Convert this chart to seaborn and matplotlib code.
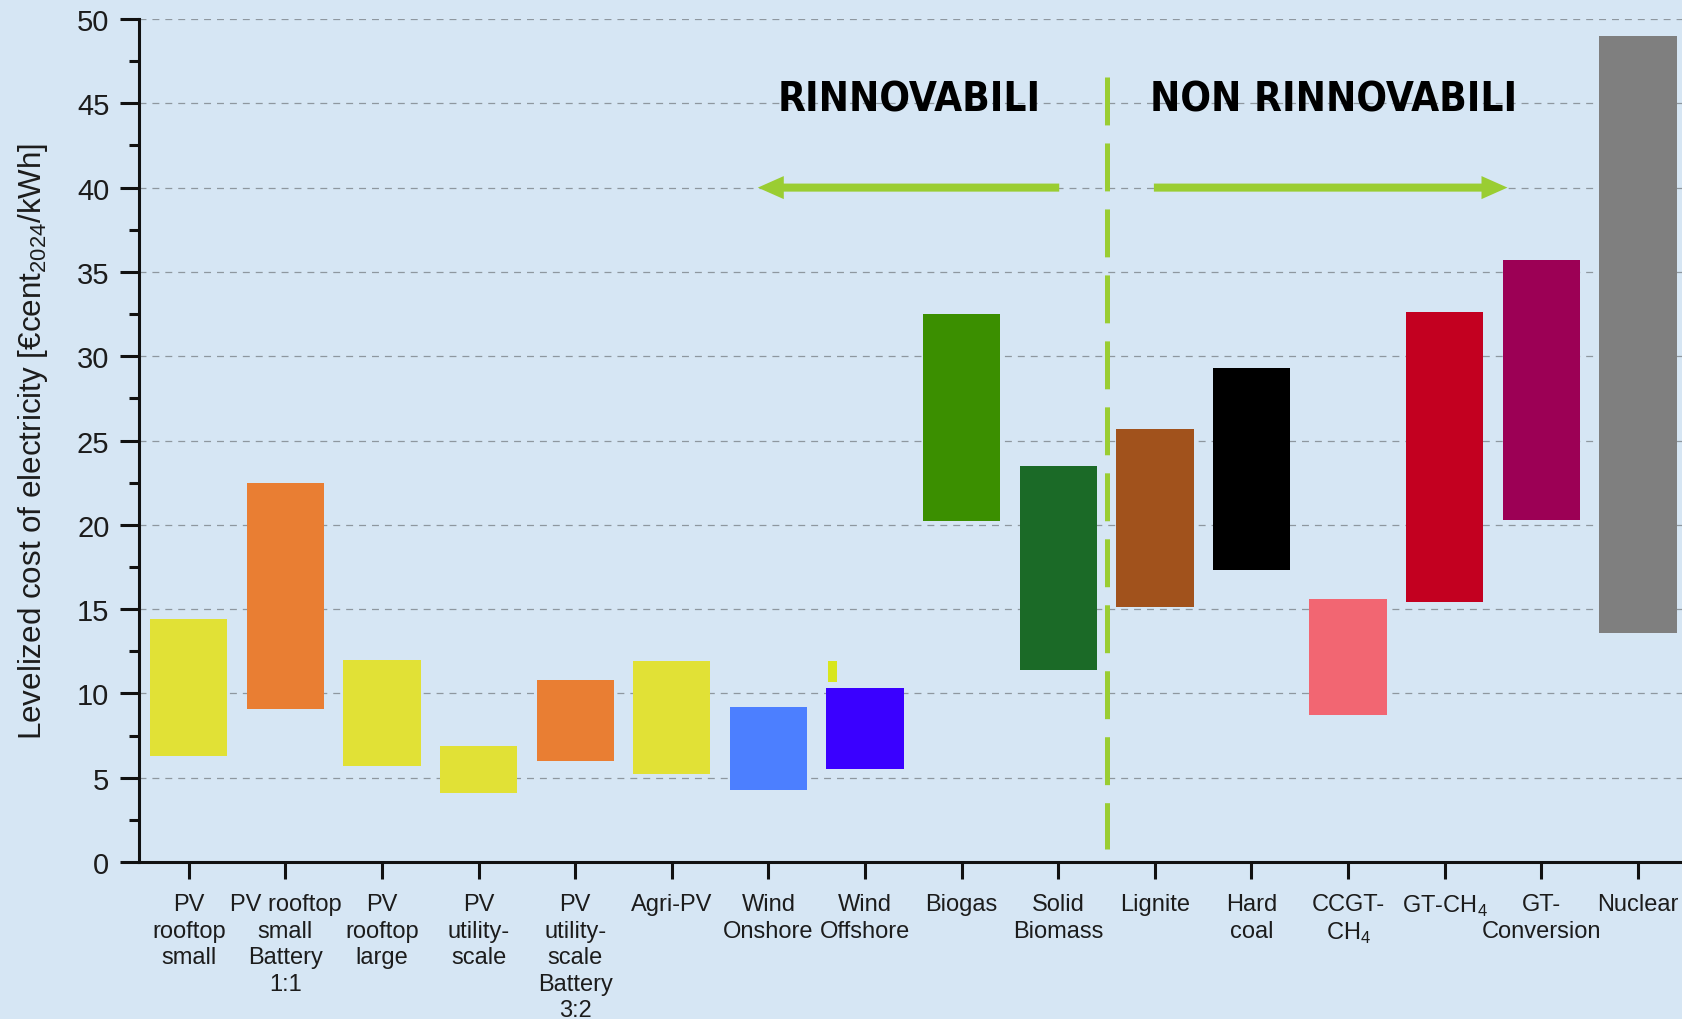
import numpy as np
import pandas as pd
import matplotlib
matplotlib.use("Agg")
import matplotlib.pyplot as plt
from matplotlib.ticker import MultipleLocator
import seaborn as sns

# ---------------- data ----------------
categories = [
    "PV\nrooftop\nsmall",
    "PV rooftop\nsmall\nBattery\n1:1",
    "PV\nrooftop\nlarge",
    "PV\nutility-\nscale",
    "PV\nutility-\nscale\nBattery\n3:2",
    "Agri-PV",
    "Wind\nOnshore",
    "Wind\nOffshore",
    "Biogas",
    "Solid\nBiomass",
    "Lignite",
    "Hard\ncoal",
    "CCGT-\nCH$_{\\mathregular{4}}$",
    "GT-CH$_{\\mathregular{4}}$",
    "GT-\nConversion",
    "Nuclear",
]
lcoe_min = [6.3, 9.1, 5.7, 4.1, 6.0, 5.2, 4.3, 5.5, 20.2, 11.4, 15.1, 17.3, 8.7, 15.4, 20.3, 13.6]
lcoe_max = [14.4, 22.5, 12.0, 6.9, 10.8, 11.9, 9.2, 10.3, 32.5, 23.5, 25.7, 29.3, 15.6, 32.6, 35.7, 49.0]
bar_colors = ["#E1E136", "#E97E33", "#E1E136", "#E1E136", "#E97E33", "#E1E136",
              "#4C7FFF", "#3A00FF", "#3B8F00", "#1B6A27", "#A1521C", "#000000",
              "#F26672", "#C30020", "#9C0055", "#7F7F7F"]
# small stray mark next to Wind Offshore in the source
stray_x = [6.66]
stray_min = [10.7]
stray_max = [11.9]

group_labels = ["RINNOVABILI", "NON RINNOVABILI"]
group_label_x = [7.46, 11.85]
divider_x = 9.5
arrow_y = 40

# ---------------- style ----------------
BG = "#D6E6F4"
GREEN = "#9ACD32"
TXT = "#1c1c1c"
sns.set_theme(style="ticks")
plt.rcParams["font.family"] = ["Liberation Sans", "DejaVu Sans"]
plt.rcParams["mathtext.fontset"] = "custom"
plt.rcParams["mathtext.rm"] = "Liberation Sans"
plt.rcParams["lines.scale_dashes"] = False

fig = plt.figure(figsize=(16.83, 10.20), dpi=100, facecolor=BG)
ax = fig.add_axes([0.0828, 0.1539, 0.9172, 0.8265])
ax.set_facecolor(BG)

df = pd.DataFrame({
    "tech": categories,
    "span": np.array(lcoe_max) - np.array(lcoe_min),
})
sns.barplot(data=df, x="tech", y="span", hue="tech", order=categories,
            hue_order=categories, palette=bar_colors, legend=False,
            width=0.8, saturation=1, linewidth=0, ax=ax, zorder=2)
for patch, bottom in zip(ax.patches, lcoe_min):
    patch.set_y(bottom)

ax.bar(stray_x, np.array(stray_max) - np.array(stray_min), bottom=stray_min,
       width=0.09, color="#D8E61E", linewidth=0, zorder=2)

ax.set_xlim(-0.512, 15.467)
ax.set_ylim(0, 50)
ax.set_xlabel("")
ax.set_ylabel("Levelized cost of electricity [€cent$_{\\mathregular{2024}}$/kWh]",
              fontsize=22.6, color=TXT)
ax.yaxis.set_label_coords(-0.058, 0.5)

ax.set_xticks(range(len(categories)))
ax.set_xticklabels(categories)
for lbl in ax.get_xticklabels():
    lbl.set_linespacing(1.26)

ax.yaxis.set_major_locator(MultipleLocator(5))
ax.yaxis.set_minor_locator(MultipleLocator(2.5))

ax.tick_params(axis="y", which="major", length=13.5, width=2.2, pad=8,
               labelsize=21, colors="#111111", labelcolor=TXT, direction="out")
ax.tick_params(axis="y", which="minor", length=7.5, width=2.2, colors="#111111",
               direction="out")
ax.tick_params(axis="x", which="major", length=12, width=2.2, pad=10.5,
               labelsize=17, colors="#111111", labelcolor=TXT, direction="out")

for s in ["top", "right"]:
    ax.spines[s].set_visible(False)
for s in ["left", "bottom"]:
    ax.spines[s].set_linewidth(2.2)
    ax.spines[s].set_color("#111111")

ax.yaxis.grid(True, which="major", color="#8E979F", linewidth=0.9,
              linestyle=(0, (5, 4.3)))
ax.set_axisbelow(True)
gl = ax.get_ygridlines()
gl[0].set_visible(False)
gl[-1].set_visible(False)

# divider
ax.plot([divider_x, divider_x], [46.56, 0.77], color=GREEN, linewidth=3.6,
        linestyle=(0, (34.5, 13)), zorder=3, solid_capstyle="butt",
        dash_capstyle="butt")

# arrows
arrow_style = "simple,head_length=18.7,head_width=16.6,tail_width=5.8"
ax.annotate("", xy=(5.89, arrow_y), xytext=(9.01, arrow_y),
            arrowprops=dict(arrowstyle=arrow_style, color=GREEN, lw=0,
                            shrinkA=0, shrinkB=0, mutation_scale=1), zorder=3)
ax.annotate("", xy=(13.65, arrow_y), xytext=(9.99, arrow_y),
            arrowprops=dict(arrowstyle=arrow_style, color=GREEN, lw=0,
                            shrinkA=0, shrinkB=0, mutation_scale=1), zorder=3)

for label, gx in zip(group_labels, group_label_x):
    ax.text(gx, 44.55, label, ha="center", va="baseline", fontsize=29,
            fontweight="bold", fontstretch="condensed", family="DejaVu Sans",
            color="black", zorder=4)

fig.savefig("out.png", dpi=100, facecolor=BG)
